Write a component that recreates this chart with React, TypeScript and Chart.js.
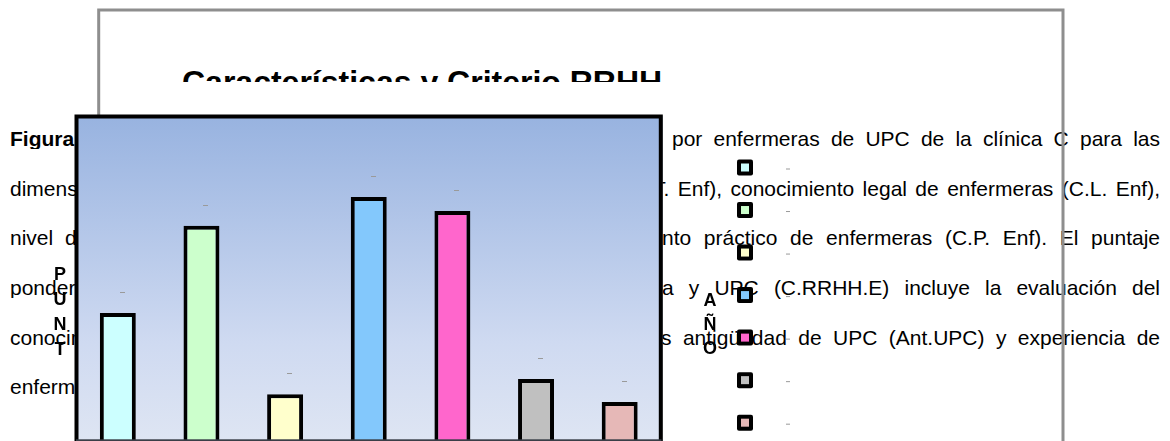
import React, { useEffect, useRef } from 'react';
import { Chart, registerables } from 'chart.js';

Chart.register(...registerables);

// ---- data ----
const categories = ['C.T. Enf', 'C.L. Enf', 'N.E. Enf', 'C.P. Enf', 'C.RRHH.E', 'Ant.UPC', 'Exp. Enf'];
const scores = [39.3, 66.3, 14.2, 75.2, 70.9, 18.9, 11.8];
const barColors = ['#CCFFFF', '#CCFFCC', '#FFFFCC', '#83C8FC', '#FF66CC', '#C0C0C0', '#E6B8B7'];
const chartTitle = 'Características y Criterio RRHH';
const yAxisLetters = ['P', 'U', 'N', 'T'];
const legendTitleLetters = ['A', 'Ñ', 'O'];

// page text behind the chart (left part of each line, right part of each line)
const leftLines = [
  'Puntaje ponderado obtenido',
  'dimensiones de conocimiento teórico de enfermeras (C.',
  'nivel de especialización de enfermeras y conocimie',
  'ponderado de características y criterios RRHH de enfermerí',
  'conocimiento legal y teórico de enfermeras, además de la',
  'enfermería (Exp.Enf).',
];
const rightLines = [
  'por enfermeras de UPC de la clínica C para las',
  'T. Enf), conocimiento legal de enfermeras (C.L. Enf),',
  'nto práctico de enfermeras (C.P. Enf). El puntaje',
  'a y UPC (C.RRHH.E) incluye la evaluación del',
  's antigüedad de UPC (Ant.UPC) y experiencia de',
  '',
];
const rightStarts = [672, 653, 662, 662, 661, 0];

const FONT = '"Liberation Sans", Arial, Helvetica, sans-serif';

const pagePlugin = {
  id: 'pagePlugin',
  beforeDraw(chart: any) {
    const { ctx, chartArea: a } = chart;
    ctx.save();
    // grey frame of the embedded chart object
    ctx.strokeStyle = '#8e8e8e';
    ctx.lineWidth = 3;
    ctx.beginPath();
    ctx.moveTo(98.7, 441);
    ctx.lineTo(98.7, 10);
    ctx.lineTo(1063, 10);
    ctx.lineTo(1063, 441);
    ctx.stroke();
    // plot background gradient
    const g = ctx.createLinearGradient(0, a.top, 0, a.bottom);
    g.addColorStop(0, '#98B3E0');
    g.addColorStop(0.7, '#CFDAF1');
    g.addColorStop(1, '#DEE5F3');
    ctx.fillStyle = g;
    ctx.fillRect(a.left - 1, a.top - 1, a.right - a.left + 2, a.bottom - a.top + 2);
    ctx.restore();
  },
  afterDatasetsDraw(chart: any) {
    const { ctx, chartArea: a } = chart;
    ctx.save();
    // small label dashes above bars
    const meta = chart.getDatasetMeta(0);
    ctx.fillStyle = '#9a9a9a';
    meta.data.forEach((el: any) => {
      ctx.fillRect(Math.round(el.x + 2), Math.round(el.y - 21), 5, 1);
    });
    // plot border
    ctx.strokeStyle = '#000';
    ctx.lineWidth = 4;
    ctx.strokeRect(a.left + 0.5, a.top - 0.5, a.right - a.left - 1.2, 400);
    ctx.fillStyle = '#3a3f48';
    ctx.fillRect(a.left, 439.3, a.right - a.left, 1.7);
    // legend
    const cx = 745;
    const y0 = 167.5;
    const step = 42.53;
    categories.forEach((_c, i) => {
      const cy = y0 + i * step;
      ctx.fillStyle = '#000';
      ctx.beginPath();
      (ctx as any).roundRect ? (ctx as any).roundRect(cx - 8, cy - 8, 16, 16, 2) : ctx.rect(cx - 8, cy - 8, 16, 16);
      ctx.fill();
      ctx.fillStyle = barColors[i];
      ctx.fillRect(cx - 4, cy - 4, 8, 8);
      ctx.fillStyle = '#9a9a9a';
      ctx.fillRect(cx + 41, cy + 1, 4, 1);
    });
    ctx.restore();
  },
};

export default function App() {
  const canvasRef = useRef<HTMLCanvasElement | null>(null);

  useEffect(() => {
    if (!canvasRef.current) return;
    const chart = new Chart(canvasRef.current, {
      type: 'bar',
      data: {
        labels: categories,
        datasets: [
          {
            label: 'Puntaje',
            data: scores,
            backgroundColor: barColors,
            borderColor: '#000000',
            borderWidth: 4,
            barPercentage: 0.43,
            categoryPercentage: 1,
          },
        ],
      },
      options: {
        animation: false,
        responsive: false,
        devicePixelRatio: 1,
        layout: { padding: { left: 76, right: 508.5, top: 117, bottom: 1 } },
        scales: {
          x: { display: false },
          y: { display: false, min: 0, max: 100 },
        },
        plugins: {
          legend: { display: false },
          title: { display: false },
          tooltip: { enabled: false },
        },
      },
      plugins: [pagePlugin],
    });
    return () => chart.destroy();
  }, []);

  const pitch = 49.6;
  const firstBaseline = 146;
  const fs = 21;

  return (
    <div
      style={{
        position: 'fixed',
        left: 0,
        top: 0,
        width: 1170,
        height: 441,
        overflow: 'hidden',
        background: '#fff',
        fontFamily: FONT,
        color: '#000',
      }}
    >
      {/* clipped chart title */}
      <div style={{ position: 'absolute', left: 0, top: 0, width: 1170, height: 82, overflow: 'hidden' }}>
        <div
          style={{
            position: 'absolute',
            left: 182,
            top: 66,
            fontSize: 32,
            lineHeight: '32px',
            fontWeight: 'bold',
            whiteSpace: 'nowrap',
          }}
        >
          {chartTitle}
        </div>
      </div>

      {/* page text */}
      {leftLines.map((t, i) => {
        const top = firstBaseline + i * pitch - 0.8465 * fs;
        return (
          <div
            key={'l' + i}
            style={{
              position: 'absolute',
              left: 10,
              top,
              width: 640,
              overflow: 'hidden',
              whiteSpace: 'nowrap',
              fontSize: fs,
              lineHeight: fs + 'px',
              wordSpacing: 6,
            }}
          >
            {i === 0 ? (
              <>
                <b>Figura 3.</b> {t}
              </>
            ) : (
              t
            )}
          </div>
        );
      })}
      {rightLines.map((t, i) => {
        if (!t) return null;
        const top = firstBaseline + i * pitch - 0.8465 * fs;
        return (
          <div
            key={'r' + i}
            style={{
              position: 'absolute',
              left: rightStarts[i],
              top,
              width: 1160 - rightStarts[i],
              fontSize: fs,
              lineHeight: fs + 'px',
              textAlign: 'justify',
              textAlignLast: 'justify' as any,
              whiteSpace: 'normal',
            }}
          >
            {t}
          </div>
        );
      })}

      <canvas
        ref={canvasRef}
        width={1170}
        height={441}
        style={{ position: 'absolute', left: 0, top: 0, width: 1170, height: 441 }}
      />

      {/* stacked axis title letters */}
      {yAxisLetters.map((ch, i) => (
        <div
          key={'y' + ch}
          style={{
            position: 'absolute',
            left: 49,
            width: 22,
            textAlign: 'center',
            top: 274 + i * 25 - 9,
            fontSize: 18,
            lineHeight: '18px',
            fontWeight: 'bold',
          }}
        >
          {ch}
        </div>
      ))}
      {legendTitleLetters.map((ch, i) => (
        <div
          key={'a' + ch}
          style={{
            position: 'absolute',
            left: 699,
            width: 22,
            textAlign: 'center',
            top: 300 + i * 24 - 9,
            fontSize: 18,
            lineHeight: '18px',
            fontWeight: 'bold',
          }}
        >
          {ch}
        </div>
      ))}
    </div>
  );
}
